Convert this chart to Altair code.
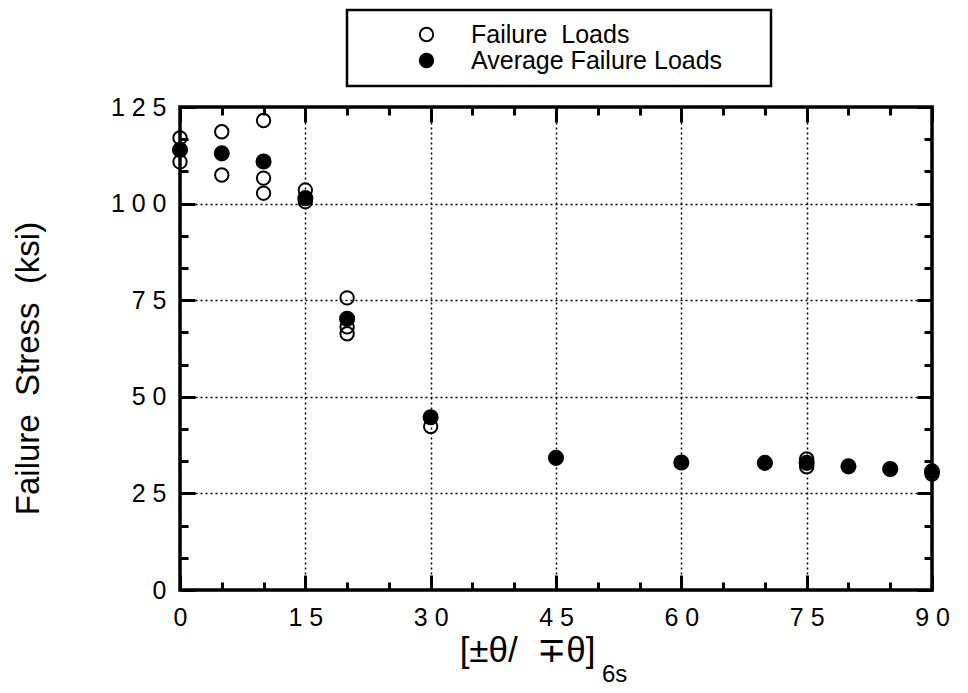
import altair as alt
import pandas as pd

# ---- data ----
open_x = [0, 0, 5, 5, 10, 10, 10, 15, 15, 20, 20, 20, 30, 75, 75, 90]
open_y = [117.0, 110.8, 118.6, 107.4, 121.5, 106.6, 102.7, 103.5, 100.5,
          75.6, 68.1, 66.3, 42.3, 33.9, 31.9, 30.0]
avg_x = [0, 5, 10, 15, 20, 30, 45, 60, 70, 75, 80, 85, 90]
avg_y = [113.9, 113.0, 110.9, 101.4, 70.2, 44.7, 34.2, 33.0, 32.9, 32.9, 32.0, 31.3, 30.7]
series_names = ["Failure\u00a0\u00a0Loads", "Average Failure Loads"]
x_domain = [0, 90]
y_domain = [0, 125]
x_label_values = [0, 15, 30, 45, 60, 75, 90]
y_label_values = [0, 25, 50, 75, 100, 125]
x_tick_values = list(range(0, 91, 5))
y_tick_values = [k * 25 // 3 if k % 3 == 0 else round(k * 25 / 3, 4) for k in range(16)]
x_title = "[\u00b1\u03b8/\u00a0 \u2213\u03b8]"
x_title_sub = ["6s"]
y_title = "Failure\u00a0\u00a0Stress\u00a0\u00a0(ksi)"

FONT = "Liberation Sans"
W, H = 752, 483

df_open = pd.DataFrame({"x": open_x, "y": open_y, "series": series_names[0]})
df_avg = pd.DataFrame({"x": avg_x, "y": avg_y, "series": series_names[1]})
df_sub = pd.DataFrame({"t": x_title_sub})
df_box = pd.DataFrame({"x0": [x_domain[0]], "x1": [x_domain[1]], "y0": [y_domain[0]], "y1": [y_domain[1]]})

xscale = alt.Scale(domain=x_domain, nice=False, zero=False)
yscale = alt.Scale(domain=y_domain, nice=False, zero=False)

spaced = "join(split(datum.label, ''), ' ')"
x_is_major = "datum.value % 15 === 0"
y_is_major = "abs(datum.value - round(datum.value / 25) * 25) < 0.01"
x_tick_out = {"condition": {"test": x_is_major, "value": 15}, "value": 8}
y_tick_out = {"condition": {"test": y_is_major, "value": 15}, "value": 8}
x_tick_neg = {"expr": f"({x_is_major}) ? -15 : -8"}
y_tick_neg = {"expr": f"({y_is_major}) ? -15 : -8"}

legend = alt.Legend(
    orient="none", legendX=167, legendY=-97, title=None,
    strokeColor="black", padding=12, fillColor="white",
    labelFont=FONT, labelFontSize=25, labelColor="black", labelLimit=700,
    labelExpr="datum.label + '\u2800\u2800'",
    symbolType="circle", symbolSize=180, symbolStrokeColor="black",
    symbolStrokeWidth=2, symbolOffset=55, labelOffset=32, rowPadding=0,
)
fill = alt.Fill("series:N", scale=alt.Scale(domain=series_names, range=["transparent", "black"]), legend=legend)

grid_style = dict(grid=True, gridColor="black", gridDash=[2, 3], gridWidth=1.5)
# main axes (labels, grid)
x_main = alt.Axis(orient="bottom", values=x_label_values, title=x_title, ticks=False, domain=False,
                  labelFont=FONT, labelFontSize=25, labelColor="black", labelPadding=15,
                  labelExpr=spaced, labelFlush=False, labelOverlap=False,
                  titleFont=FONT, titleFontSize=35, titleFontWeight="normal", titleColor="black",
                  titleX=347, titleY=71, titleBaseline="alphabetic", **grid_style)
y_main = alt.Axis(orient="left", values=y_label_values, title=y_title, ticks=False, domain=False,
                  labelFont=FONT, labelFontSize=25, labelColor="black", labelPadding=14,
                  labelExpr=spaced, labelFlush=False, labelOverlap=False,
                  titleFont=FONT, titleFontSize=33, titleFontWeight="normal", titleColor="black",
                  titleX=-142, titleY=261, titleBaseline="alphabetic", titleAngle=270, **grid_style)

tick_style = dict(title=None, grid=False, labels=False, domain=False, ticks=True,
                  tickColor="black", tickWidth=3)
# inward ticks at bottom / left: axes flipped across the plot with negative offsets
x_in_bottom = alt.Axis(orient="top", offset=-H, values=x_tick_values, tickSize=x_tick_out, **tick_style)
y_in_left = alt.Axis(orient="right", offset=-W, values=y_tick_values, tickSize=y_tick_out, **tick_style)
# inward ticks at top / right: negative tick length
x_in_top = alt.Axis(orient="top", values=x_tick_values, tickSize=x_tick_neg, **tick_style)
y_in_right = alt.Axis(orient="right", values=y_tick_values, tickSize=y_tick_neg, **tick_style)

# plot frame drawn over the full scale domain
box_layer = alt.Chart(df_box).mark_rect(
    fill="transparent", stroke="black", strokeWidth=3.5
).encode(x=alt.X("x0:Q", scale=xscale, axis=None), x2="x1",
         y=alt.Y("y0:Q", scale=yscale, axis=None), y2="y1")

open_layer = alt.Chart(df_open).mark_point(
    shape="circle", size=180, stroke="black", strokeWidth=2, opacity=1, fillOpacity=1
).encode(x=alt.X("x:Q", scale=xscale, axis=x_main),
         y=alt.Y("y:Q", scale=yscale, axis=y_main),
         fill=fill)

avg_layer = alt.Chart(df_avg).mark_point(
    shape="circle", size=200, stroke="black", strokeWidth=2, opacity=1, fillOpacity=1
).encode(x=alt.X("x:Q", scale=xscale, axis=x_in_bottom),
         y=alt.Y("y:Q", scale=yscale, axis=y_in_left),
         fill=fill)

frame_layer = alt.Chart(df_avg).mark_point(opacity=0).encode(
    x=alt.X("x:Q", scale=xscale, axis=x_in_top),
    y=alt.Y("y:Q", scale=yscale, axis=y_in_right))

sub_layer = alt.Chart(df_sub).mark_text(
    align="left", baseline="alphabetic", font=FONT, fontSize=24, color="black"
).encode(x=alt.value(422), y=alt.value(575), text="t:N")

chart = alt.layer(box_layer, open_layer, avg_layer, frame_layer, sub_layer).resolve_axis(
    x="independent", y="independent"
).properties(
    width=W, height=H,
    autosize=alt.AutoSizeParams(type="none"),
    padding={"left": 172, "top": 99, "right": 28, "bottom": 97},
    background="white",
).configure_view(strokeWidth=0).configure_legend(strokeWidth=2.5)

chart.save("out.html", embed_options={"renderer": "svg", "actions": False})
